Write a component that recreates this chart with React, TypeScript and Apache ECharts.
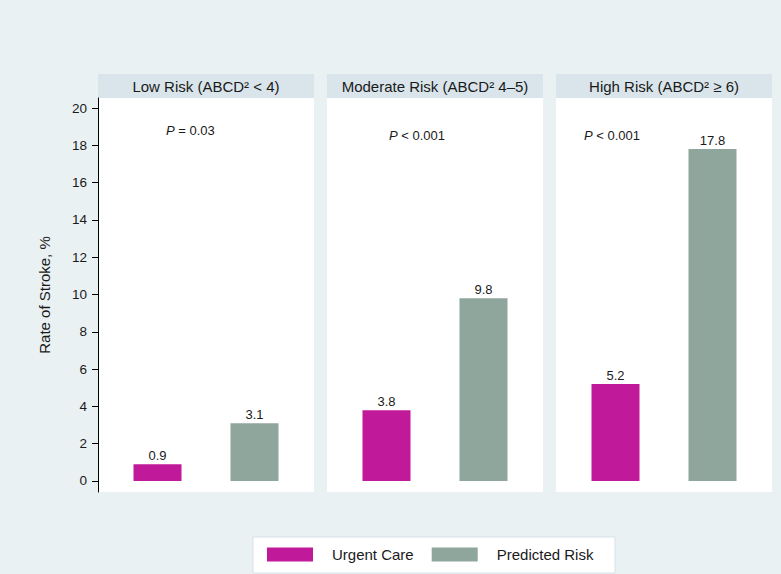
import React, { useEffect, useRef } from "react";
import * as echarts from "echarts";

const panelTitles = ["Low Risk (ABCD² < 4)", "Moderate Risk (ABCD² 4–5)", "High Risk (ABCD² ≥ 6)"];
const seriesNames = ["Urgent Care", "Predicted Risk"];
const urgentCare = [0.9, 3.8, 5.2];
const predictedRisk = [3.1, 9.8, 17.8];
const pRelations = ["= 0.03", "< 0.001", "< 0.001"];
const yTicks = [0, 2, 4, 6, 8, 10, 12, 14, 16, 18, 20];

const COLORS = ["#c0199a", "#8ea69c"];
const FONT = "Liberation Sans, Arial, sans-serif";

export default function App() {
  const ref = useRef<HTMLDivElement>(null);
  useEffect(() => {
    if (!ref.current) return;
    const chart = echarts.init(ref.current, undefined, { renderer: "svg" });

    const panelLeft = [98, 327, 556];
    const panelW = 216;
    const panelTop = 98;
    const panelBottom = 492;
    const headerTop = 74;
    const pPos = [
      [166, 130],
      [389, 135],
      [584, 135],
    ];

    const grids = panelLeft.map((l) => ({
      left: l + 11,
      width: 194,
      top: panelTop,
      height: panelBottom - panelTop,
      containLabel: false,
    }));
    const xAxes = panelLeft.map((_, i) => ({
      type: "category" as const,
      gridIndex: i,
      data: seriesNames,
      show: false,
    }));
    const yAxes = panelLeft.map((_, i) => ({
      type: "value" as const,
      gridIndex: i,
      min: -0.59,
      max: 20.54,
      show: i === 0,
      offset: 11,
      z: 5,
      name: i === 0 ? "Rate of Stroke, %" : "",
      nameLocation: "middle" as const,
      nameGap: 46,
      nameTextStyle: { fontSize: 15, color: "#1a1a1a", fontFamily: FONT },
      axisLine: { show: true, lineStyle: { color: "#000", width: 1 } },
      axisTick: { show: true, length: 6, customValues: yTicks, lineStyle: { color: "#000" } },
      axisLabel: { customValues: yTicks, margin: 11, fontSize: 13.5, color: "#1a1a1a", fontFamily: FONT },
      splitLine: { show: false },
    }));

    const series: any[] = [];
    panelLeft.forEach((_, i) => {
      [urgentCare, predictedRisk].forEach((arr, s) => {
        series.push({
          type: "bar",
          name: seriesNames[s],
          xAxisIndex: i,
          yAxisIndex: i,
          data: s === 0 ? [arr[i], "-"] : ["-", arr[i]],
          barWidth: 48,
          barGap: "-100%",
          itemStyle: { color: COLORS[s] },
          label: {
            show: true,
            position: "top",
            distance: 2,
            fontSize: 13,
            color: "#1a1a1a",
            fontFamily: FONT,
          },
        });
      });
    });

    const graphics: any[] = [];
    panelLeft.forEach((l, i) => {
      graphics.push({
        type: "rect",
        z: -1,
        shape: { x: l, y: panelTop, width: panelW, height: panelBottom - panelTop },
        style: { fill: "#ffffff" },
      });
      graphics.push({
        type: "rect",
        z: -1,
        shape: { x: l, y: headerTop, width: panelW, height: panelTop - headerTop },
        style: { fill: "#d9e5eb" },
      });
      graphics.push({
        type: "text",
        z: 10,
        x: l + panelW / 2,
        y: (headerTop + panelTop) / 2,
        style: {
          text: panelTitles[i],
          fontSize: 15,
          fill: "#1a1a1a",
          fontFamily: FONT,
          align: "center",
          verticalAlign: "middle",
        },
      });
      graphics.push({
        type: "text",
        z: 10,
        x: pPos[i][0],
        y: pPos[i][1],
        style: {
          text: "{it|P} " + pRelations[i],
          fontSize: 13,
          fill: "#1a1a1a",
          fontFamily: FONT,
          verticalAlign: "middle",
          rich: { it: { fontStyle: "italic", fontSize: 13, fill: "#1a1a1a", fontFamily: FONT } },
        },
      });
    });
    graphics.push({
      type: "rect",
      z: -1,
      shape: { x: 253, y: 537, width: 362, height: 36 },
      style: { fill: "#ffffff", stroke: "#d5e1e7", lineWidth: 1 },
    });

    chart.setOption({
      animation: false,
      backgroundColor: "#eaf1f3",
      grid: grids,
      xAxis: xAxes,
      yAxis: yAxes,
      series,
      graphic: graphics,
      legend: {
        data: seriesNames,
        left: 267,
        top: 547,
        padding: 0,
        itemWidth: 46,
        itemHeight: 14,
        itemGap: 18,
        icon: "rect",
        textStyle: { fontSize: 15, color: "#1a1a1a", fontFamily: FONT, padding: [0, 0, 0, 14] },
      },
    });
    return () => chart.dispose();
  }, []);
  return <div ref={ref} style={{ position: "fixed", left: 0, top: 0, width: 781, height: 574 }} />;
}
